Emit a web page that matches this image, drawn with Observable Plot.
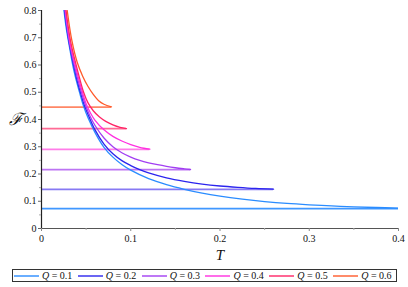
<!DOCTYPE html>
<html>
<head>
<meta charset="utf-8">
<script src="https://cdn.jsdelivr.net/npm/d3@7"></script>
<script src="https://cdn.jsdelivr.net/npm/@observablehq/plot@0.6"></script>
<style>
  html, body { margin: 0; padding: 0; background: #fff; }
  #chart { width: 408px; }
  #chart svg, #chart svg text { font-family: "Liberation Serif", "Times New Roman", serif !important; }
  .legend { box-sizing: border-box; margin: 6px 0 0 12px; width: 385px; height: 13px; border: 1px solid #333;
            display: flex; align-items: center; font-family: "Liberation Serif", "Times New Roman", serif; font-size: 10px; color: #111; }
  .item { display: flex; align-items: center; width: 64.2px; white-space: nowrap; }
  .item svg { margin-left: 1px; margin-right: 3px; }
  .item i { font-style: italic; }
</style>
</head>
<body>
<div id="chart"></div>
<script>
const qLabels = ["0.1", "0.2", "0.3", "0.4", "0.5", "0.6"];
const colors = ["#2a8cff", "#2b24ee", "#a23ef2", "#ff2fe0", "#ff2566", "#ff5a2a"];
const hColors = ["#2a8cff", "#7a6af2", "#b565f2", "#ff6fe6", "#ff5b8a", "#ff7a55"];

// horizontal branch level and its end temperature
const hLevel = [0.0726, 0.1438, 0.2163, 0.2905, 0.3665, 0.4455];
const hEnd = [0.4, 0.260, 0.167, 0.1214, 0.0952, 0.0784];

// curved branches (T, F)
const tQ1 = [0.0252, 0.0275, 0.0306, 0.035, 0.0381, 0.043, 0.047, 0.052, 0.060, 0.070, 0.080, 0.090, 0.100, 0.120, 0.140, 0.160, 0.180, 0.200, 0.225, 0.250, 0.275, 0.300, 0.325, 0.350, 0.375, 0.400];
const fQ1 = [0.80, 0.74, 0.68, 0.60, 0.555, 0.495, 0.450, 0.407, 0.352, 0.298, 0.262, 0.235, 0.214, 0.183, 0.161, 0.144, 0.130, 0.119, 0.108, 0.099, 0.092, 0.087, 0.083, 0.0795, 0.077, 0.075];
const tQ2 = [0.0257, 0.031, 0.039, 0.044, 0.048, 0.053, 0.060, 0.070, 0.080, 0.090, 0.100, 0.110, 0.120, 0.140, 0.160, 0.180, 0.200, 0.220, 0.240, 0.260];
const fQ2 = [0.80, 0.68, 0.555, 0.495, 0.452, 0.412, 0.362, 0.310, 0.274, 0.249, 0.231, 0.216, 0.204, 0.186, 0.173, 0.163, 0.156, 0.151, 0.147, 0.1445];
const tQ3 = [0.0262, 0.0315, 0.040, 0.045, 0.049, 0.054, 0.060, 0.070, 0.080, 0.090, 0.100, 0.110, 0.120, 0.130, 0.140, 0.150, 0.160, 0.167];
const fQ3 = [0.80, 0.68, 0.555, 0.497, 0.455, 0.415, 0.378, 0.332, 0.300, 0.278, 0.262, 0.250, 0.241, 0.234, 0.228, 0.223, 0.219, 0.2165];
const tQ4 = [0.0268, 0.032, 0.041, 0.046, 0.050, 0.055, 0.060, 0.070, 0.080, 0.090, 0.100, 0.110, 0.1214];
const fQ4 = [0.80, 0.68, 0.557, 0.498, 0.458, 0.423, 0.397, 0.362, 0.338, 0.321, 0.308, 0.298, 0.291];
const tQ5 = [0.0275, 0.033, 0.042, 0.047, 0.052, 0.058, 0.065, 0.072, 0.080, 0.088, 0.0952];
const fQ5 = [0.80, 0.68, 0.56, 0.502, 0.462, 0.432, 0.409, 0.393, 0.380, 0.371, 0.3665];
const tQ6 = [0.0288, 0.034, 0.040, 0.046, 0.052, 0.058, 0.064, 0.070, 0.0784];
const fQ6 = [0.80, 0.69, 0.61, 0.56, 0.522, 0.492, 0.469, 0.456, 0.4465];

const xTicks = [0, 0.1, 0.2, 0.3, 0.4];
const xMinor = [0.05, 0.15, 0.25, 0.35];
const yTicks = [0, 0.1, 0.2, 0.3, 0.4, 0.5, 0.6, 0.7, 0.8];
const yMinor = [0.05, 0.15, 0.25, 0.35, 0.45, 0.55, 0.65, 0.75];

const tArr = [tQ1, tQ2, tQ3, tQ4, tQ5, tQ6];
const fArr = [fQ1, fQ2, fQ3, fQ4, fQ5, fQ6];
const curves = tArr.map((ts, i) => ts.map((t, j) => ({T: t, F: fArr[i][j], q: i})));
const horiz = hLevel.map((f, i) => ({F: f, end: hEnd[i], q: i}));

const fmt = d => String(+d.toFixed(2));

const marks = [];
horiz.forEach(h => {
  marks.push(Plot.ruleY([h], {y: "F", x1: 0, x2: "end", stroke: hColors[h.q], strokeWidth: 1.8, strokeOpacity: 0.9, clip: true}));
});
curves.forEach((c, i) => {
  marks.push(Plot.line(c, {x: "T", y: "F", stroke: colors[i], strokeWidth: 1.3, curve: "catmull-rom", clip: true}));
});

const chart = Plot.plot({
  width: 408,
  height: 263,
  marginLeft: 41,
  marginRight: 10,
  marginTop: 10,
  marginBottom: 35,
  style: {fontSize: "10px", color: "#111", background: "#fff"},
  x: {domain: [0, 0.4]},
  y: {domain: [0, 0.8]},
  marks: [
    ...marks,
    Plot.ruleX([0], {stroke: "#222", strokeWidth: 1.2}),
    Plot.ruleY([0], {stroke: "#555", strokeWidth: 1}),
    Plot.axisX({ticks: xTicks, tickFormat: fmt, tickSize: 3, tickPadding: 3, label: null, stroke: "#888"}),
    Plot.axisX({ticks: xMinor, tickSize: 2, label: null, text: null, stroke: "#aaa"}),
    Plot.axisY({ticks: yTicks, tickFormat: fmt, tickSize: 3, tickPadding: 2, label: null, stroke: "#666"}),
    Plot.axisY({ticks: yMinor, tickSize: 2, label: null, text: null, stroke: "#aaa"}),
    Plot.text(["ℱ"], {x: 0, y: 0.4, frameAnchor: "left", dx: -26, fontSize: 17, fontStyle: "italic", fill: "#111", textAnchor: "middle"}),
    Plot.text(["T"], {x: 0.2, y: 0, dy: 27, fontSize: 15, fontStyle: "italic", fill: "#111", textAnchor: "middle", lineAnchor: "middle"})
  ]
});
document.getElementById("chart").appendChild(chart);

const legend = document.createElement("div");
legend.className = "legend";
qLabels.forEach((q, i) => {
  const item = document.createElement("div");
  item.className = "item";
  item.innerHTML = `<svg width="25" height="4"><line x1="0" y1="2" x2="25" y2="2" stroke="${colors[i]}" stroke-width="1.4"/></svg><span><i>Q</i> = ${q}</span>`;
  legend.appendChild(item);
});
document.getElementById("chart").appendChild(legend);
</script>
</body>
</html>
